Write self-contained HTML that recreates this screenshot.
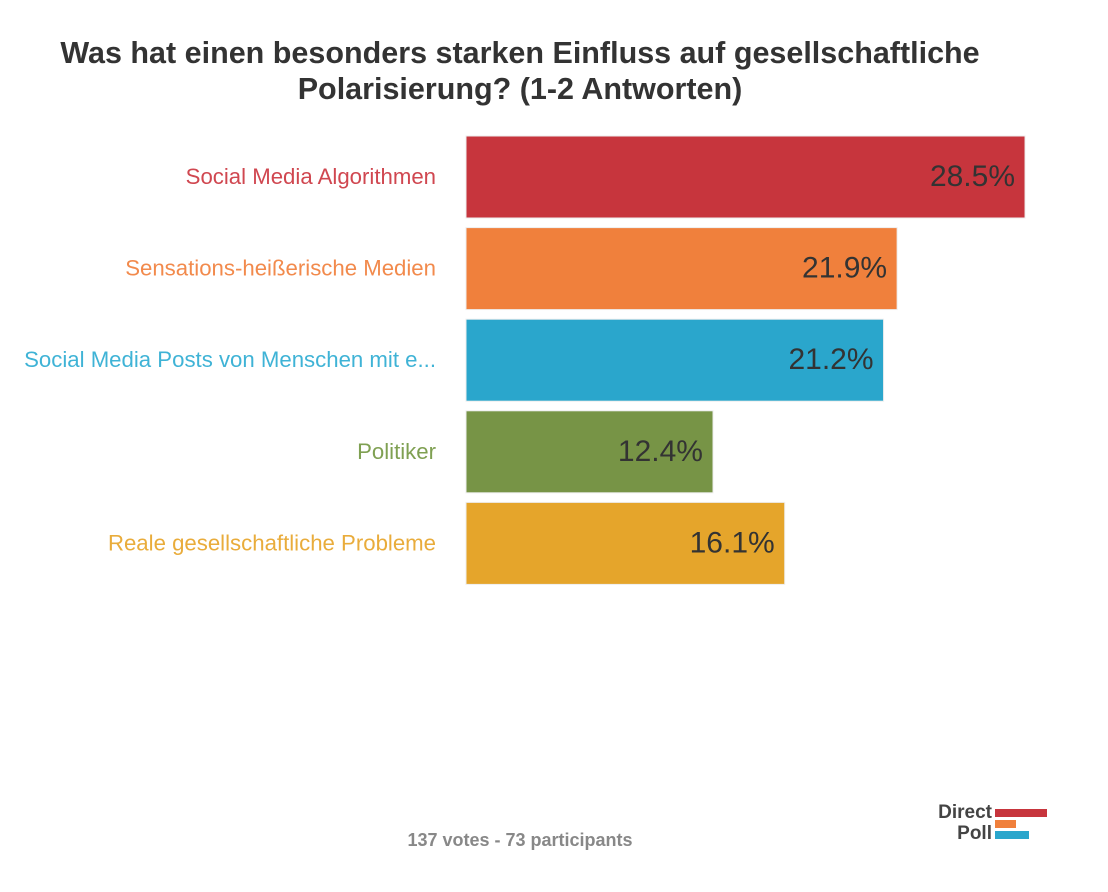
<!DOCTYPE html>
<html><head><meta charset="utf-8"><style>
body{margin:0;background:#fff;width:1108px;height:887px;overflow:hidden;font-family:"Liberation Sans",sans-serif;}
</style></head><body>
<svg width="1108" height="887">
<text x="520" y="63" text-anchor="middle" font-size="30.5" font-weight="bold" fill="#333">Was hat einen besonders starken Einfluss auf gesellschaftliche</text>
<text x="520" y="99" text-anchor="middle" font-size="30.5" font-weight="bold" fill="#333">Polarisierung? (1-2 Antworten)</text>
<g id="bars"></g>
<text x="520" y="846" text-anchor="middle" font-size="18" font-weight="bold" fill="#888">137 votes - 73 participants</text>
<g>
<text x="992" y="818" text-anchor="end" font-size="19" font-weight="bold" fill="#444">Direct</text>
<text x="992" y="839" text-anchor="end" font-size="19" font-weight="bold" fill="#444">Poll</text>
<rect x="995" y="809" width="52" height="8" fill="#c7353d"/>
<rect x="995" y="820" width="21" height="8" fill="#f0803c"/>
<rect x="995" y="831" width="34" height="8" fill="#2aa6cc"/>
</g>
</svg>
<script>
const categories=["Social Media Algorithmen","Sensations-heißerische Medien","Social Media Posts von Menschen mit e...","Politiker","Reale gesellschaftliche Probleme"];
const values=[28.5,21.9,21.2,12.4,16.1];
const colors=["#c7353d","#f0803c","#2aa6cc","#779446","#e5a52b"];
const labelColors=["#d04750","#f28a4c","#3fb3d6","#7fa052","#e9ac3b"];
const x0=472.7,scale=19.38,barStart=466;
function xs(v){return x0+v*scale;}
function ys(i){return 136+i*91.6;}
const g=document.getElementById('bars');
const ns="http://www.w3.org/2000/svg";
values.forEach((v,i)=>{
 const r=document.createElementNS(ns,'rect');
 
 
 r.setAttribute('x',barStart);r.setAttribute('y',ys(i));
 r.setAttribute('width',xs(v)-barStart);r.setAttribute('height',82);
 r.setAttribute('fill',colors[i]);r.setAttribute('stroke','#eee');r.setAttribute('stroke-width','1');
 g.appendChild(r);
 const t=document.createElementNS(ns,'text');
 
 
 t.setAttribute('x',xs(v)-10);t.setAttribute('y',ys(i)+50);
 t.setAttribute('text-anchor','end');t.setAttribute('font-size','30');t.setAttribute('fill','#333');
 t.textContent=v.toFixed(1)+'%';g.appendChild(t);
 const l=document.createElementNS(ns,'text');
 
 
 l.setAttribute('x',436);l.setAttribute('y',ys(i)+48);
 l.setAttribute('text-anchor','end');l.setAttribute('font-size','22.2');l.setAttribute('fill',labelColors[i]);
 l.textContent=categories[i];g.appendChild(l);
});
</script>
</body></html>
